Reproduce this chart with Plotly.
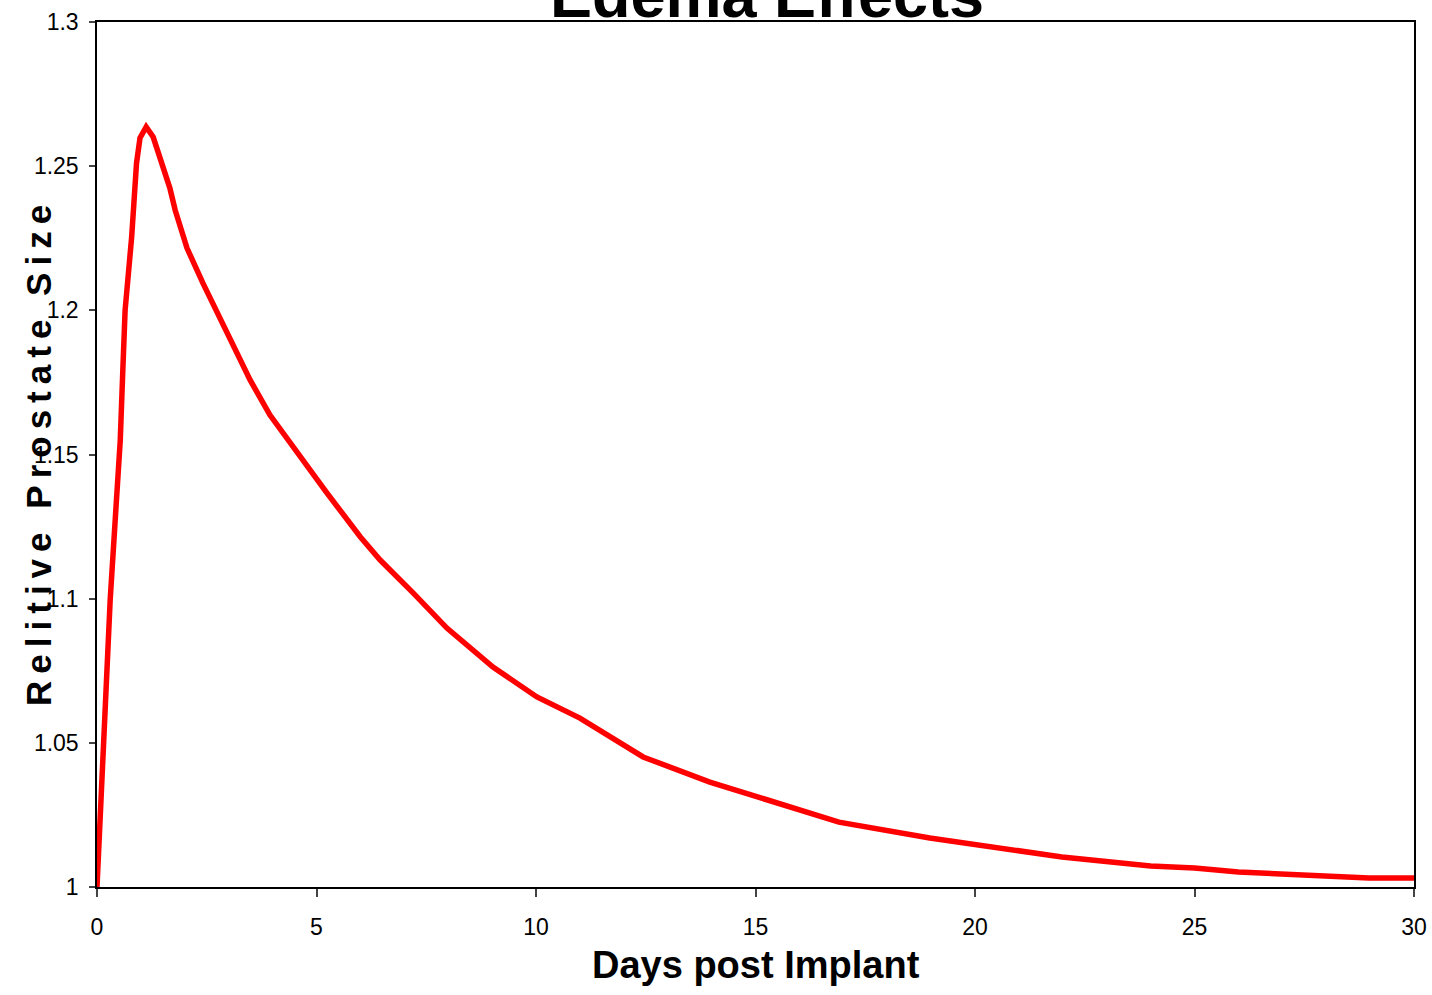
import plotly.graph_objects as go

days = [0, 0.1, 0.18, 0.3, 0.43, 0.53, 0.59, 0.64, 0.79, 0.85, 0.9, 0.98, 1.12, 1.28,
        1.39, 1.66, 1.78, 1.94, 2.05, 2.41, 3.03, 3.49, 3.94, 4.51, 5.24, 6.0, 6.45,
        7.2, 7.97, 9.02, 10.02, 11.0, 12.44, 13.96, 15.03, 16.9, 18.97, 21.98, 24.0,
        25.0, 26.0, 28.97, 30]
size = [1.0, 1.034, 1.053, 1.0995, 1.131, 1.155, 1.18, 1.2, 1.2255, 1.24, 1.251, 1.2598,
        1.2636, 1.2601, 1.2548, 1.2424, 1.2348, 1.2261, 1.2216, 1.2095, 1.1897, 1.1758,
        1.1637, 1.1516, 1.1366, 1.1214, 1.1134, 1.102, 1.0898, 1.0763, 1.0659, 1.0586,
        1.0451, 1.0364, 1.0312, 1.0225, 1.017, 1.0104, 1.0073, 1.0066, 1.0052, 1.0031,
        1.0031]

title_text = "Edema Effects"
x_title = "Days post Implant"
y_title = "Relitive Prostate Size"

ARIAL = "Liberation Sans, Arial, sans-serif"

fig = go.Figure()
fig.add_trace(go.Scatter(x=days, y=size, mode="lines",
                         line=dict(color="#FF0000", width=5.5), hoverinfo="x+y"))

spaced = "\u2009".join(list(y_title))

fig.update_layout(
    width=1432, height=995,
    margin=dict(l=97, r=18, t=22, b=108),
    paper_bgcolor="white", plot_bgcolor="white",
    showlegend=False,
    title=dict(text=title_text, xref="container", yref="container",
               x=767 / 1432, xanchor="center", y=1 - 17 / 995, yanchor="bottom",
               automargin=False,
               font=dict(family=ARIAL, size=63, color="black", weight="bold")),
    xaxis=dict(range=[0, 30], dtick=5, tick0=0, showgrid=False, zeroline=False,
               automargin=False,
               showline=True, linecolor="black", linewidth=1.5, mirror=True,
               ticks="outside", ticklen=8, tickcolor="#444", tickwidth=1.5,
               ticklabelstandoff=11,
               tickfont=dict(family=ARIAL, size=23, color="black")),
    yaxis=dict(range=[1, 1.3], dtick=0.05, tick0=1, showgrid=False, zeroline=False,
               automargin=False,
               showline=True, linecolor="black", linewidth=1.5, mirror=True,
               ticks="outside", ticklen=6, tickcolor="#444", tickwidth=1.5,
               ticklabelstandoff=6,
               tickfont=dict(family=ARIAL, size=23, color="black")),
    annotations=[
        dict(text=x_title, xref="paper", yref="paper", x=(756 - 97) / 1317,
             y=-(965 - 887) / 865, xanchor="center", yanchor="middle", showarrow=False,
             font=dict(family=ARIAL, size=38, color="black", weight="bold")),
        dict(text=spaced, xref="paper", yref="paper", x=0, xshift=38 - 97,
             y=(887 - 456) / 865, xanchor="center", yanchor="middle", showarrow=False,
             textangle=-90,
             font=dict(family=ARIAL, size=35, color="black", weight="bold")),
    ],
)

fig.write_html("out.html")
